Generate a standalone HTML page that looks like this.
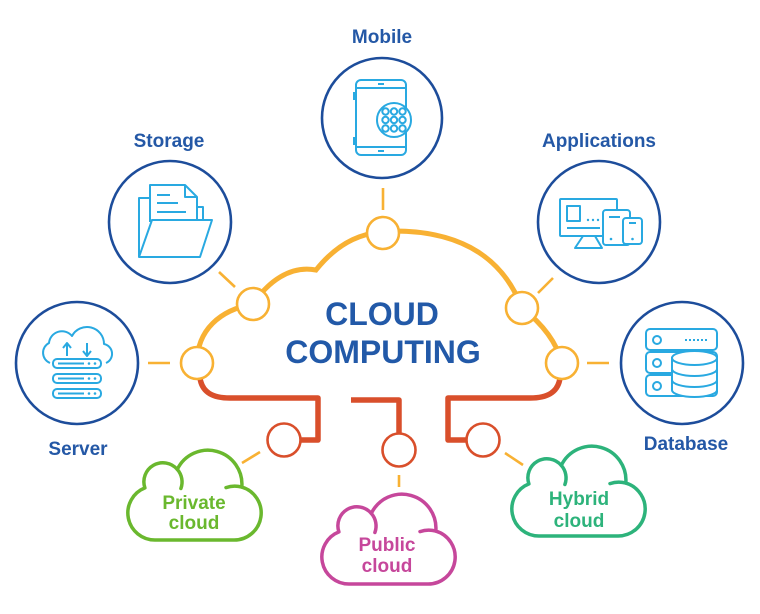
<!DOCTYPE html>
<html><head><meta charset="utf-8"><style>
html,body{margin:0;padding:0;background:#fff;}
svg{display:block;}
text{font-family:"Liberation Sans",Arial,sans-serif;font-weight:bold;}
</style></head><body>
<svg width="760" height="614" viewBox="0 0 760 614" xmlns="http://www.w3.org/2000/svg">
<rect width="760" height="614" fill="#fff"/>

<!-- short orange connectors -->
<g stroke="#f8b133" stroke-width="2.6" fill="none">
<line x1="383" y1="188" x2="383" y2="210"/>
<line x1="219" y1="272" x2="235" y2="287"/>
<line x1="553" y1="278" x2="538" y2="293"/>
<line x1="148" y1="363" x2="170" y2="363"/>
<line x1="587" y1="363" x2="609" y2="363"/>
<line x1="242" y1="463" x2="260" y2="452"/>
<line x1="399" y1="475" x2="399" y2="487"/>
<line x1="505" y1="453" x2="523" y2="465"/>
</g>

<!-- main cloud outline -->
<path d="M197 363 C197 330 220 310 253 304 C268 282 290 265 316 270 C340 240 365 232 390 231 C450 230 500 250 522 308 C540 322 556 340 562 363" fill="none" stroke="#f8b133" stroke-width="5"/>

<!-- red lines -->
<g stroke="#d94f2b" stroke-width="5.5" fill="none" stroke-linejoin="round">
<path d="M200 378 C202 392 212 398 230 398 L318 398 L318 440 L300 440"/>
<path d="M351 400 L399 400 L399 434"/>
<path d="M560 378 C558 392 548 398 530 398 L448 398 L448 440 L467 440"/>
</g>

<!-- orange node circles -->
<g fill="#fff" stroke="#f8b133" stroke-width="2.6">
<circle cx="383" cy="233" r="16"/>
<circle cx="253" cy="304" r="16"/>
<circle cx="197" cy="363" r="16"/>
<circle cx="522" cy="308" r="16"/>
<circle cx="562" cy="363" r="16"/>
</g>
<!-- red node circles -->
<g fill="#fff" stroke="#d94f2b" stroke-width="2.6">
<circle cx="284" cy="440" r="16.5"/>
<circle cx="399" cy="450" r="16.5"/>
<circle cx="483" cy="440" r="16.5"/>
</g>

<!-- big circles -->
<g fill="#fff" stroke="#1d4d9b" stroke-width="2.6">
<circle cx="382" cy="118" r="60"/>
<circle cx="170" cy="222" r="61"/>
<circle cx="599" cy="222" r="61"/>
<circle cx="77" cy="363" r="61"/>
<circle cx="682" cy="363" r="61"/>
</g>

<!-- Mobile icon -->
<g stroke="#29a9e1" stroke-width="2" fill="none">
<rect x="356" y="80" width="50" height="75" rx="5"/>
<line x1="356" y1="88" x2="406" y2="88"/>
<line x1="356" y1="147" x2="406" y2="147"/>
<line x1="378" y1="84" x2="384" y2="84"/>
<line x1="378" y1="151" x2="384" y2="151"/>
<path d="M356 93 h-2 v6 h2 M356 138 h-2 v6 h2"/>
<circle cx="394" cy="120" r="17" fill="#fff"/>
<circle cx="385.5" cy="111.5" r="3.2"/><circle cx="394" cy="111.5" r="3.2"/><circle cx="402.5" cy="111.5" r="3.2"/>
<circle cx="385.5" cy="120" r="3.2"/><circle cx="394" cy="120" r="3.2"/><circle cx="402.5" cy="120" r="3.2"/>
<circle cx="385.5" cy="128.5" r="3.2"/><circle cx="394" cy="128.5" r="3.2"/><circle cx="402.5" cy="128.5" r="3.2"/>
</g>

<!-- Storage icon -->
<g stroke="#29a9e1" stroke-width="2" fill="none" stroke-linejoin="round">
<path d="M150 198 H139 V257"/>
<path d="M150 222 V185 H185 L197 197 V220"/>
<path d="M185 185 V197 H197"/>
<path d="M197 207 H203 V220"/>
<line x1="157" y1="195" x2="170" y2="195"/>
<line x1="157" y1="203" x2="178" y2="203"/>
<line x1="157" y1="212" x2="186" y2="212"/>
<path d="M139 257 L152 220 H212 L200 257 Z" fill="#fff"/>
</g>

<!-- Applications icon -->
<g stroke="#29a9e1" stroke-width="2" fill="none" stroke-linejoin="round">
<rect x="560" y="199" width="57" height="37" rx="1"/>
<rect x="567" y="206" width="13" height="15"/>
<line x1="567" y1="228" x2="600" y2="228"/>
<path d="M583 236 L575 248 H602 L595 236"/>
<rect x="603" y="210" width="27" height="35" rx="3" fill="#fff"/>
<line x1="609" y1="217" x2="620" y2="217"/>
<rect x="623" y="218" width="19" height="26" rx="3" fill="#fff"/>
<line x1="629" y1="223" x2="636" y2="223"/>
</g>
<g fill="#29a9e1">
<circle cx="588" cy="220" r="1.2"/><circle cx="593" cy="220" r="1.2"/><circle cx="598" cy="220" r="1.2"/>
<circle cx="611" cy="239" r="1.3"/><circle cx="632.5" cy="239" r="1.3"/>
</g>

<!-- Database icon -->
<g stroke="#29a9e1" stroke-width="2" fill="none">
<rect x="646" y="329" width="71" height="21" rx="4"/>
<rect x="646" y="352" width="71" height="21" rx="4"/>
<rect x="646" y="375" width="71" height="21" rx="4"/>
<circle cx="657" cy="340" r="4"/>
<circle cx="657" cy="363" r="4"/>
<circle cx="657" cy="386" r="4"/>
<line x1="685" y1="340" x2="709" y2="340" stroke-dasharray="2 2"/>
<path d="M672 358 V390 A22.5 7 0 0 0 717 390 V358 Z" fill="#fff"/>
<ellipse cx="694.5" cy="358" rx="22.5" ry="7" fill="#fff"/>
<path d="M672 369 A22.5 7 0 0 0 717 369 M672 380 A22.5 7 0 0 0 717 380"/>
</g>

<!-- Server icon -->
<g stroke="#29a9e1" stroke-width="2" fill="none" stroke-linejoin="round">
<path d="M50 363 A11 11 0 0 1 49 343 A13 13 0 0 1 72 336 A17 17 0 0 1 104 344 A10 10 0 0 1 106 363"/>
<path d="M67 356 V344 M63 348 L67 343 L71 348"/>
<path d="M87 343 V355 M83 351 L87 356 L91 351"/>
<rect x="53" y="359" width="48" height="9" rx="4" fill="#fff"/>
<rect x="53" y="374" width="48" height="9" rx="4" fill="#fff"/>
<rect x="53" y="389" width="48" height="9" rx="4" fill="#fff"/>
<line x1="58" y1="363.5" x2="84" y2="363.5"/>
<line x1="58" y1="378.5" x2="84" y2="378.5"/>
<line x1="58" y1="393.5" x2="84" y2="393.5"/>
</g>
<g fill="#29a9e1">
<circle cx="89" cy="363.5" r="1.3"/><circle cx="95" cy="363.5" r="1.3"/>
<circle cx="89" cy="378.5" r="1.3"/><circle cx="95" cy="378.5" r="1.3"/>
<circle cx="89" cy="393.5" r="1.3"/><circle cx="95" cy="393.5" r="1.3"/>
</g>

<!-- small clouds -->
<g fill="#fff" stroke-width="3.5" stroke-linecap="round" stroke-linejoin="round">
<g transform="translate(128,450)" stroke="#6ab82e">
<path d="M27 90 A27 27 0 0 1 16.9 37.9 A19 19 0 0 1 49.3 19.4 A34 34 0 0 1 113.8 37.1 A27 27 0 0 1 106 90 Z"/>
<path d="M49.3 19.4 A19 19 0 0 1 52.9 38.5" fill="none"/>
<path d="M98 37.6 A27 27 0 0 1 113.8 37.1" fill="none"/>
</g>
<g transform="translate(322,494)" stroke="#c6479b">
<path d="M27 90 A27 27 0 0 1 16.9 37.9 A19 19 0 0 1 49.3 19.4 A34 34 0 0 1 113.8 37.1 A27 27 0 0 1 106 90 Z"/>
<path d="M49.3 19.4 A19 19 0 0 1 52.9 38.5" fill="none"/>
<path d="M98 37.6 A27 27 0 0 1 113.8 37.1" fill="none"/>
</g>
<g transform="translate(512,446)" stroke="#2db37b">
<path d="M27 90 A27 27 0 0 1 16.9 37.9 A19 19 0 0 1 49.3 19.4 A34 34 0 0 1 113.8 37.1 A27 27 0 0 1 106 90 Z"/>
<path d="M49.3 19.4 A19 19 0 0 1 52.9 38.5" fill="none"/>
<path d="M98 37.6 A27 27 0 0 1 113.8 37.1" fill="none"/>
</g>
</g>

<!-- texts -->
<g fill="#2458a6" font-size="19" text-anchor="middle">
<text x="382" y="43">Mobile</text>
<text x="169" y="147">Storage</text>
<text x="599" y="147">Applications</text>
<text x="78" y="455">Server</text>
<text x="686" y="450">Database</text>
</g>
<g fill="#2259a8" font-size="32" text-anchor="middle">
<text x="382" y="325">CLOUD</text>
<text x="383" y="363">COMPUTING</text>
</g>
<g font-size="19" text-anchor="middle">
<text x="194" y="509" fill="#6ab82e">Private</text>
<text x="194" y="529" fill="#6ab82e">cloud</text>
<text x="387" y="551" fill="#c6479b">Public</text>
<text x="387" y="572" fill="#c6479b">cloud</text>
<text x="579" y="505" fill="#2db37b">Hybrid</text>
<text x="579" y="527" fill="#2db37b">cloud</text>
</g>
</svg>
</body></html>
